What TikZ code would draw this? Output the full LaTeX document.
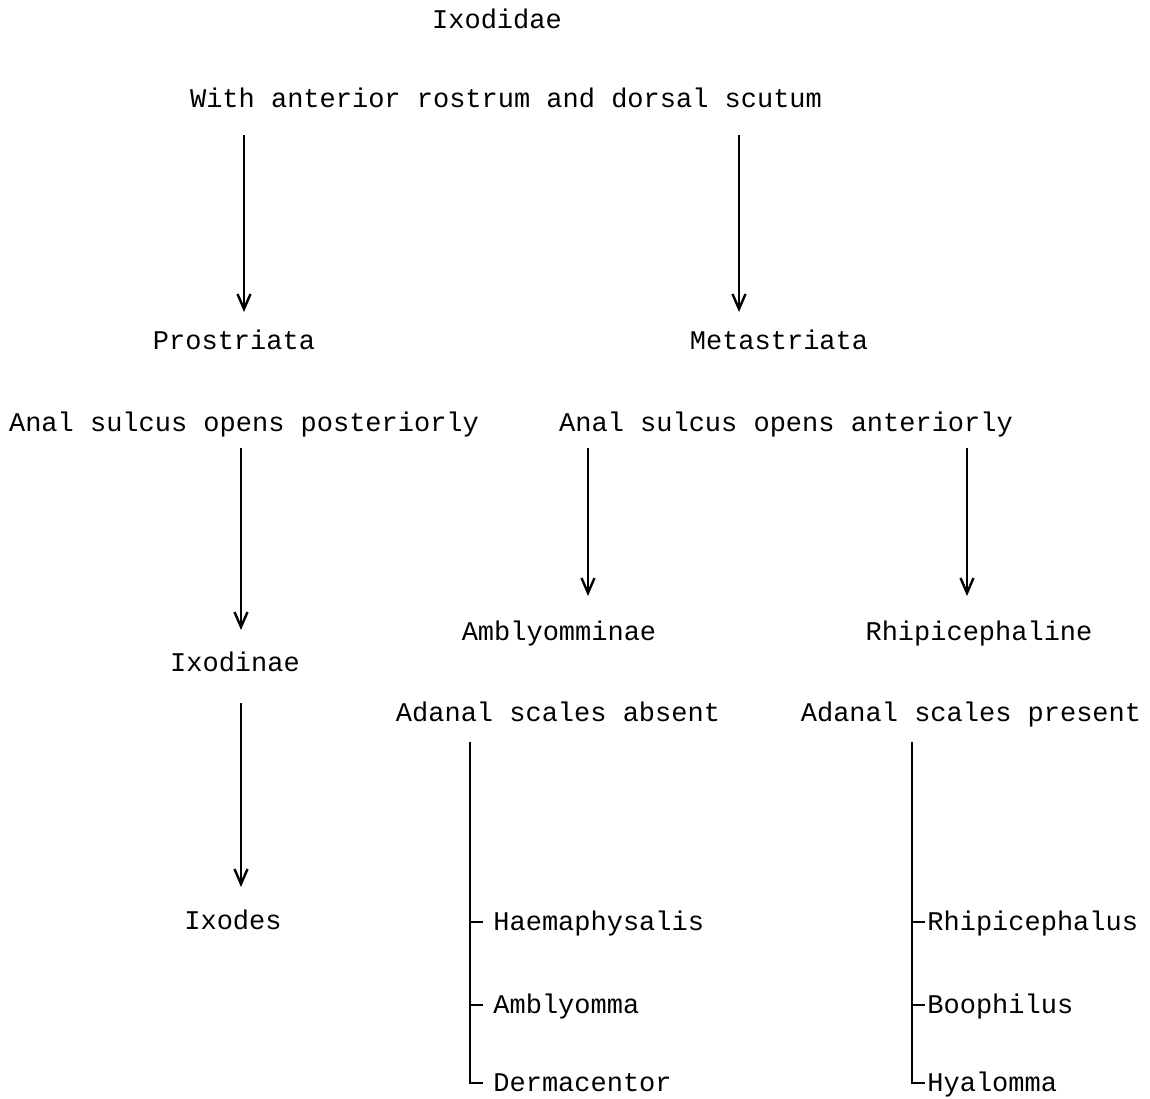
\documentclass[tikz,border=0pt]{standalone}
\usepackage{fontspec}
\setmonofont{Liberation Mono}
\usetikzlibrary{arrows.meta, positioning, calc}

\begin{document}
\begin{tikzpicture}
   [
      x=0.5pt, y=-0.5pt,
      % Style for the typed labels
      label node/.style={font=\ttfamily\fontsize{13.5}{16}\selectfont, inner sep=0pt, text height=9pt, text depth=1pt},
      % Style for the downward arrows
      down arrow/.style={line width=1.1pt, -{Straight Barb[length=7.5pt, width=6.5pt, line width=1.2pt]}},
      % Style for the genus brackets
      bracket/.style={line width=1.1pt}
   ]
    \useasboundingbox (0,0) rectangle (1150,1098);

    % =======================================================
    % Family and its two groups
    % =======================================================
    \node[label node] (ixodidae) at (497,20) {Ixodidae};
    \node[label node] (family) at (506,99) {With anterior rostrum and dorsal scutum};

    \node[label node] (prostriata) at (234,341) {Prostriata};
    \node[label node] (metastriata) at (779,341) {Metastriata};

    \coordinate (pro top) at (244,135);
    \coordinate (pro end) at (244,312);
    \coordinate (met top) at (739,135);
    \coordinate (met end) at (739,312);
    \draw[down arrow] (pro top) -- (pro end);
    \draw[down arrow] (met top) -- (met end);

    % =======================================================
    % Prostriata branch
    % =======================================================
    \node[label node] (posterior) at (244,423) {Anal sulcus opens posteriorly};
    \node[label node] (ixodinae) at (235,663) {Ixodinae};
    \node[label node] (ixodes) at (233,921) {Ixodes};

    \draw[down arrow] (241,448) -- (241,630);
    \draw[down arrow] (241,703) -- (241,887);

    % =======================================================
    % Metastriata branch
    % =======================================================
    \node[label node] (anterior) at (786,423) {Anal sulcus opens anteriorly};
    \node[label node] (amblyomminae) at (559,632) {Amblyomminae};
    \node[label node] (rhipicephaline) at (979,632) {Rhipicephaline};

    \draw[down arrow] (588,448) -- (588,596);
    \draw[down arrow] (967,448) -- (967,596);

    \node[label node] (absent) at (558,713) {Adanal scales absent};
    \node[label node] (present) at (971,713) {Adanal scales present};

    % Genera without adanal scales
    \node[label node, anchor=west] (haemaphysalis) at (493,922) {Haemaphysalis};
    \node[label node, anchor=west] (amblyomma) at (493,1005) {Amblyomma};
    \node[label node, anchor=west] (dermacentor) at (493,1083) {Dermacentor};

    \draw[bracket] (470,742) |- ([xshift=-5pt]dermacentor.west);
    \draw[bracket] (470,922) -- ([xshift=-5pt]haemaphysalis.west);
    \draw[bracket] (470,1005) -- ([xshift=-5pt]amblyomma.west);

    % Genera with adanal scales
    \node[label node, anchor=west] (rhipicephalus) at (927,922) {Rhipicephalus};
    \node[label node, anchor=west] (boophilus) at (927,1005) {Boophilus};
    \node[label node, anchor=west] (hyalomma) at (927,1083) {Hyalomma};

    \draw[bracket] (912,742) |- ([xshift=-1pt]hyalomma.west);
    \draw[bracket] (912,922) -- ([xshift=-1pt]rhipicephalus.west);
    \draw[bracket] (912,1005) -- ([xshift=-1pt]boophilus.west);

\end{tikzpicture}
\end{document}
